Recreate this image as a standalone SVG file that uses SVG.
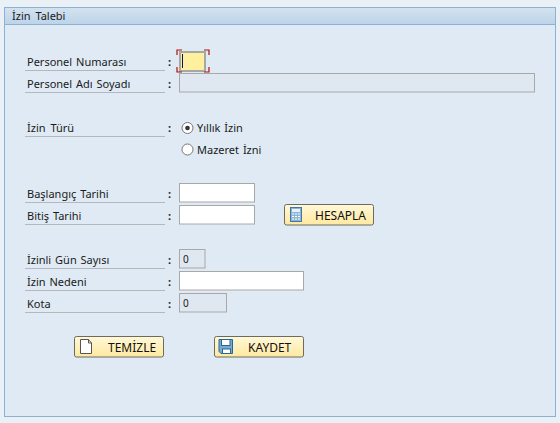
<svg xmlns="http://www.w3.org/2000/svg" width="560" height="423" viewBox="0 0 560 423">
<style>
text{font-family:"Noto Sans","DejaVu Sans",sans-serif;font-size:11px;word-spacing:1px;fill:#1a1a1a}
.ul{stroke:#b4b8bb;stroke-width:1;fill:none}
.inp{fill:#fff;stroke:#a8a8a8;stroke-width:1}
.ro{fill:#dfe8f0;stroke:#a8a8a8;stroke-width:1}
.c{font-weight:bold;font-size:11px}
.btn{fill:url(#bg);stroke:#6b6b60;stroke-width:1}
.bt{font-size:12px;fill:#111}
.cr{stroke:#b01010;stroke-width:1.2;fill:none}
</style>
<defs>
<linearGradient id="tg" x1="0" y1="0" x2="0" y2="1"><stop offset="0" stop-color="#d3e2ef"/><stop offset="1" stop-color="#bdd4e9"/></linearGradient>
<linearGradient id="bg" x1="0" y1="0" x2="0" y2="1"><stop offset="0" stop-color="#fff8d8"/><stop offset="1" stop-color="#ffe9a0"/></linearGradient>
</defs>
<rect width="560" height="423" fill="#e9f0f6"/>
<g id="panel">
<rect x="4.500" y="7.500" width="551" height="409" fill="#dfeaf4" stroke="#8fb0cf"/>
<rect x="5" y="8" width="550" height="16" fill="url(#tg)"/>
<line x1="5" y1="24.500" x2="555" y2="24.500" stroke="#8fb0cf"/>
<text x="12" y="20" style="word-spacing:2px">İzin Talebi</text>
</g>
<g id="row-personel-no">
<text x="27" y="66">Personel Numarası</text><line class="ul" x1="25" y1="70.500" x2="165" y2="70.500"/>
<text class="c" x="168" y="66">:</text>
<rect x="180" y="52" width="25" height="19" fill="#fff0a0" stroke="#a8a8a0" stroke-width="2"/>
<line x1="182.500" y1="54" x2="182.500" y2="68" stroke="#101060"/>
<path class="cr" d="M177 55V50H182M204 50H209V55M177 67V72H182M204 72H209V67"/>
</g>
<g id="row-personel-ad">
<text x="27" y="88">Personel Adı Soyadı</text><line class="ul" x1="25" y1="92.500" x2="165" y2="92.500"/>
<text class="c" x="168" y="88">:</text>
<rect class="ro" x="179.500" y="73.500" width="355" height="18.500"/>
</g>
<g id="row-izin-turu">
<text x="27" y="132" style="word-spacing:2px">İzin Türü</text><line class="ul" x1="25" y1="136.500" x2="165" y2="136.500"/>
<text class="c" x="168" y="132">:</text>
<circle cx="187.500" cy="128" r="5.500" fill="#fff" stroke="#777"/><circle cx="187.500" cy="128" r="2.300" fill="#333"/>
<text x="197" y="132">Yıllık İzin</text>
<circle cx="187.500" cy="149.500" r="5.500" fill="#fff" stroke="#777"/>
<text x="197" y="154">Mazeret İzni</text>
</g>
<g id="row-baslangic">
<text x="27" y="198">Başlangıç Tarihi</text><line class="ul" x1="25" y1="202.500" x2="165" y2="202.500"/>
<text class="c" x="168" y="198">:</text>
<rect class="inp" x="179.500" y="183.500" width="75" height="18.500"/>
</g>
<g id="row-bitis">
<text x="27" y="220">Bitiş Tarihi</text><line class="ul" x1="25" y1="224.500" x2="165" y2="224.500"/>
<text class="c" x="168" y="220">:</text>
<rect class="inp" x="179.500" y="205.500" width="75" height="18.500"/>
</g>
<g id="btn-hesapla">
<rect class="btn" x="284.500" y="204.500" width="89" height="20.500" rx="2"/>
<rect x="290.500" y="207.500" width="11" height="14" fill="#8fb4d4" stroke="#3f78a8"/>
<rect x="292" y="209" width="8" height="3" fill="#e8f2fa"/>
<path d="M292 214h8M292 216.500h8M292 219h8" stroke="#fff" stroke-width="1" stroke-dasharray="2 1"/>
<text class="bt" x="315" y="219.500">HESAPLA</text>
</g>
<g id="row-gun">
<text x="27" y="264">İzinli Gün Sayısı</text><line class="ul" x1="25" y1="268.500" x2="165" y2="268.500"/>
<text class="c" x="168" y="264">:</text>
<rect class="ro" x="179.500" y="249.500" width="25.500" height="18.500"/>
<text x="183" y="263" font-size="10" style="font-size:10px">0</text>
</g>
<g id="row-neden">
<text x="27" y="286">İzin Nedeni</text><line class="ul" x1="25" y1="290.500" x2="165" y2="290.500"/>
<text class="c" x="168" y="286">:</text>
<rect class="inp" x="179.500" y="271.500" width="124" height="18.500"/>
</g>
<g id="row-kota">
<text x="27" y="308">Kota</text><line class="ul" x1="25" y1="312.500" x2="165" y2="312.500"/>
<text class="c" x="168" y="308">:</text>
<rect class="ro" x="179.500" y="293.500" width="47" height="18.500"/>
<text x="183" y="307" style="font-size:10px">0</text>
</g>
<g id="btn-temizle">
<rect class="btn" x="74.500" y="336.500" width="89" height="20.500" rx="2"/>
<path d="M80.500 339.500H88.500L91.500 343V353.500H80.500Z" fill="#fff" stroke="#555"/>
<path d="M88.500 339.500V343H91.500" fill="none" stroke="#555"/>
<text class="bt" x="108" y="351.500">TEMİZLE</text>
</g>
<g id="btn-kaydet">
<rect class="btn" x="214.500" y="336.500" width="89" height="20.500" rx="2"/>
<path d="M219 339.500H232.500V353.500H221L219 351.500Z" fill="#7fa8cc" stroke="#1f6a9c"/>
<rect x="221.500" y="339.500" width="8.500" height="6" fill="#fff" stroke="#1f6a9c"/>
<rect x="222.500" y="349" width="8" height="4.500" fill="#fff" stroke="#1f6a9c"/>
<text class="bt" x="248" y="351.500">KAYDET</text>
</g>
</svg>
